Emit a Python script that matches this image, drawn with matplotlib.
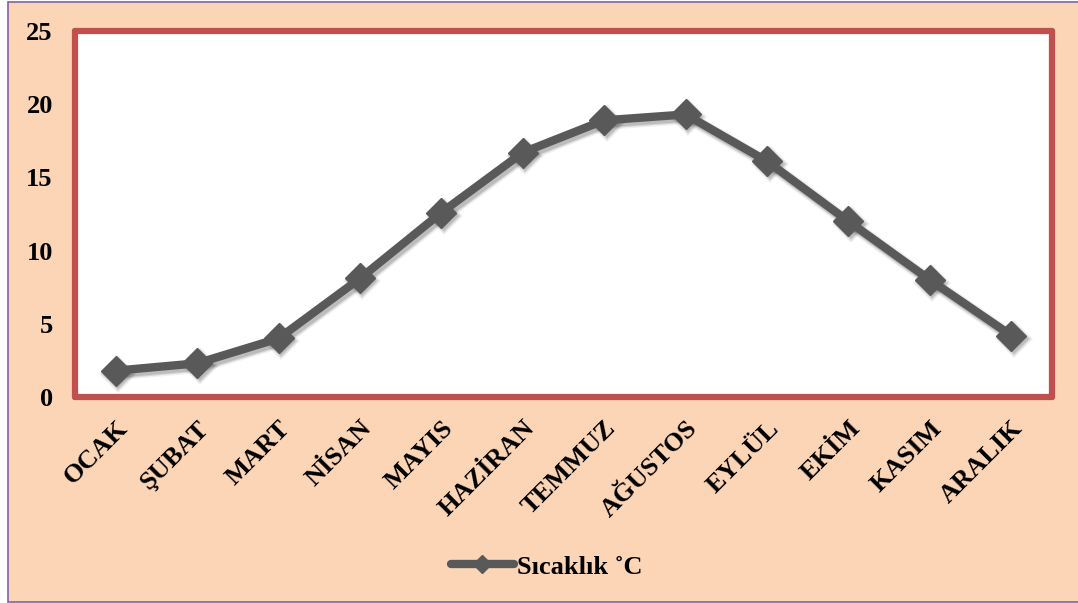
import matplotlib
matplotlib.use("Agg")
from matplotlib import pyplot as plt
import matplotlib.patches as mpatches
from matplotlib.lines import Line2D
from matplotlib.transforms import offset_copy

FONTSIZE = 19
plt.rcParams["font.family"] = ["Liberation Serif", "DejaVu Serif"]
plt.rcParams["font.weight"] = "bold"

months = ["OCAK", "ŞUBAT", "MART", "NİSAN", "MAYIS", "HAZİRAN",
          "TEMMUZ", "AĞUSTOS", "EYLÜL", "EKİM", "KASIM", "ARALIK"]
temps = [1.8, 2.3, 4.0, 8.1, 12.6, 16.7, 18.9, 19.3, 16.1, 12.0, 8.0, 4.2]
yticks = [0, 5, 10, 15, 20, 25]

LINE_COLOR = "#595959"
MS = 15.5

fig = plt.figure(figsize=(10.78, 6.03), dpi=100, facecolor="white")

# peach chart area with thin purple frame
bg = mpatches.Rectangle((8 / 1078, 1 / 603), 1.05, 600 / 603, transform=fig.transFigure,
                        facecolor="#FBD5B5", edgecolor="#8064A2", linewidth=1.2, zorder=-10)
fig.patches.append(bg)

ax = fig.add_axes([75 / 1078, 206 / 603, 977 / 1078, 366 / 603])
ax.set_facecolor("white")

x = list(range(len(months)))

# soft drop shadow under the series
shadow_tr = offset_copy(ax.transData, fig=fig, x=2.5, y=-3, units="dots")
for lw, a in [(9.5, 0.06), (7.5, 0.10), (6, 0.12)]:
    ax.plot(x, temps, color="black", alpha=a, linewidth=lw, marker="D",
            markersize=MS + (lw - 6), markeredgewidth=0, solid_capstyle="round",
            transform=shadow_tr, zorder=2)

ax.plot(x, temps, color=LINE_COLOR, linewidth=6, marker="D", markersize=MS,
        solid_capstyle="round", zorder=3)

ax.set_xlim(-0.5, len(months) - 0.5)
ax.set_ylim(0, 25)
ax.set_yticks(yticks)
ax.set_yticklabels([str(t) for t in yticks], fontsize=FONTSIZE, fontweight="bold")
ax.set_xticks(x)
ax.set_xticklabels(months, rotation=45, ha="right", rotation_mode="anchor",
                   fontsize=FONTSIZE, fontweight="bold")
ax.tick_params(axis="both", length=0)
ax.tick_params(axis="y", pad=16)
ax.tick_params(axis="x", pad=14)

for s in ax.spines.values():
    s.set_color("#C0504D")
    s.set_linewidth(4.5)
    s.set_capstyle("round")
    s.set_zorder(4)

handle = Line2D([], [], color=LINE_COLOR, linewidth=6, marker="D", markersize=9,
                solid_capstyle="round")
fig.legend([handle], ["Sıcaklık ˚C"], loc="center", bbox_to_anchor=(0.507, 0.06),
           frameon=False, prop={"size": FONTSIZE, "weight": "bold"},
           handlelength=2.4, handletextpad=0.1)

fig.savefig("out.png", dpi=100, facecolor=fig.get_facecolor())
